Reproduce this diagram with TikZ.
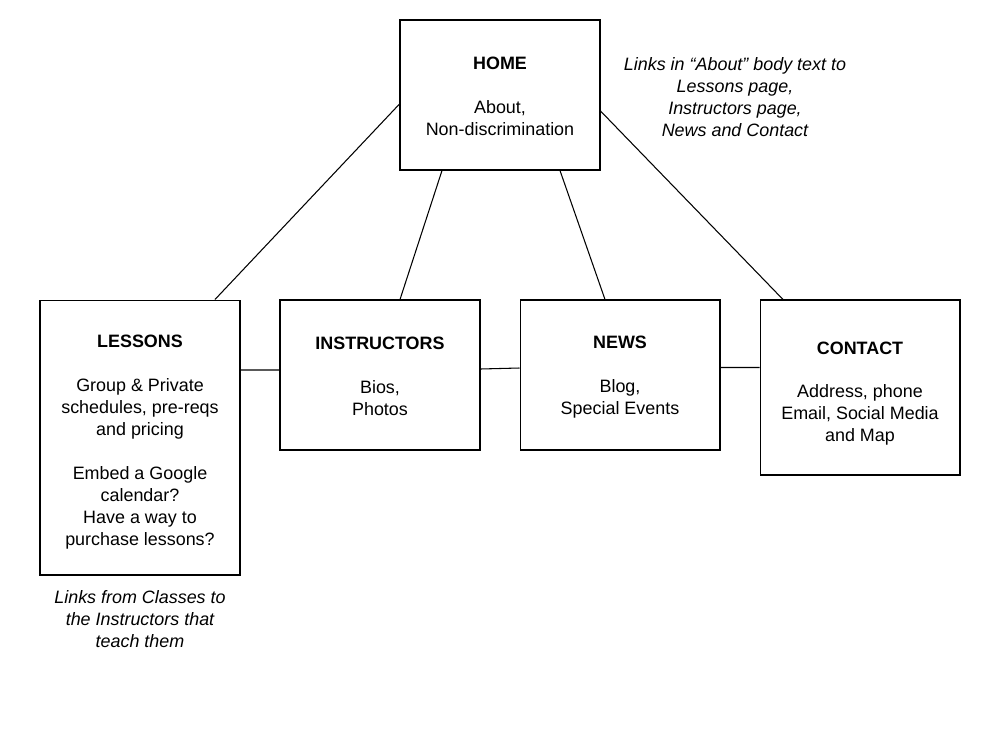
\documentclass[tikz,border=0pt]{standalone}
\usepackage{fontspec}
\setmainfont{Liberation Sans}
\tikzset{
    page/.style={draw, line width=0.6pt, minimum width=4cm, align=center, inner sep=0pt,
        font=\fontsize{10.2}{12.5}\selectfont},
    link/.style={line width=0.6pt},
    remark/.style={align=center, font=\fontsize{10.2}{12.5}\selectfont\itshape}
}
\begin{document}
\begin{tikzpicture}[x=0.02cm, y=-0.02cm]
    \useasboundingbox (0,0) rectangle (1000,750);

    % Top page
    \node[page, minimum height=3cm] (home) at (500,95)
        {\rule{0pt}{8.4pt}\textbf{HOME}\\[12.5pt]About,\\Non-discrimination};

    % Second level pages
    \node[page, minimum height=5.5cm] (lessons) at (140,437.5)
        {\rule{0pt}{12.7pt}\textbf{LESSONS}\\[12.5pt]Group \& Private\\schedules, pre-reqs\\and pricing\\[12.5pt]
         Embed a Google\\calendar?\\Have a way to\\purchase lessons?};
    \node[page, minimum height=3cm] (instructors) at (380,375)
        {\rule{0pt}{8.4pt}\textbf{INSTRUCTORS}\\[12.5pt]Bios,\\Photos};
    \node[page, minimum height=3cm] (news) at (620,375)
        {\rule{0pt}{9.5pt}\textbf{NEWS}\\[12.5pt]Blog,\\Special Events};
    \node[page, minimum height=3.5cm] (contact) at (860,387.5)
        {\rule{0pt}{14pt}\textbf{CONTACT}\\[12.5pt]Address, phone\\Email, Social Media\\and Map};

    % Notes
    \node[remark] (aboutnote) at (735,97)
        {Links in \char"201C About\char"201D{} body text to\\Lessons page,\\Instructors page,\\News and Contact};
    \node[remark] (classnote) at (140,619)
        {Links from Classes to\\the Instructors that\\teach them};

    % Links from home
    \draw[link] ([yshift=-0.18cm]home.west) -- ([xshift=1.5cm]lessons.north);
    \draw[link] ([xshift=-1.16cm]home.south) -- ([xshift=0.4cm]instructors.north);
    \draw[link] ([xshift=1.2cm]home.south) -- ([xshift=-0.3cm]news.north);
    \draw[link] ([yshift=-0.32cm]home.east) -- ([xshift=-1.54cm]contact.north);

    % Links between pages
    \draw[link] ([yshift=1.35cm]lessons.east) -- ([yshift=0.1cm]instructors.west);
    \draw[link] ([yshift=0.12cm]instructors.east) -- ([yshift=0.14cm]news.west);
    \draw[link] ([yshift=0.15cm]news.east) -- ([yshift=0.4cm]contact.west);
\end{tikzpicture}
\end{document}
